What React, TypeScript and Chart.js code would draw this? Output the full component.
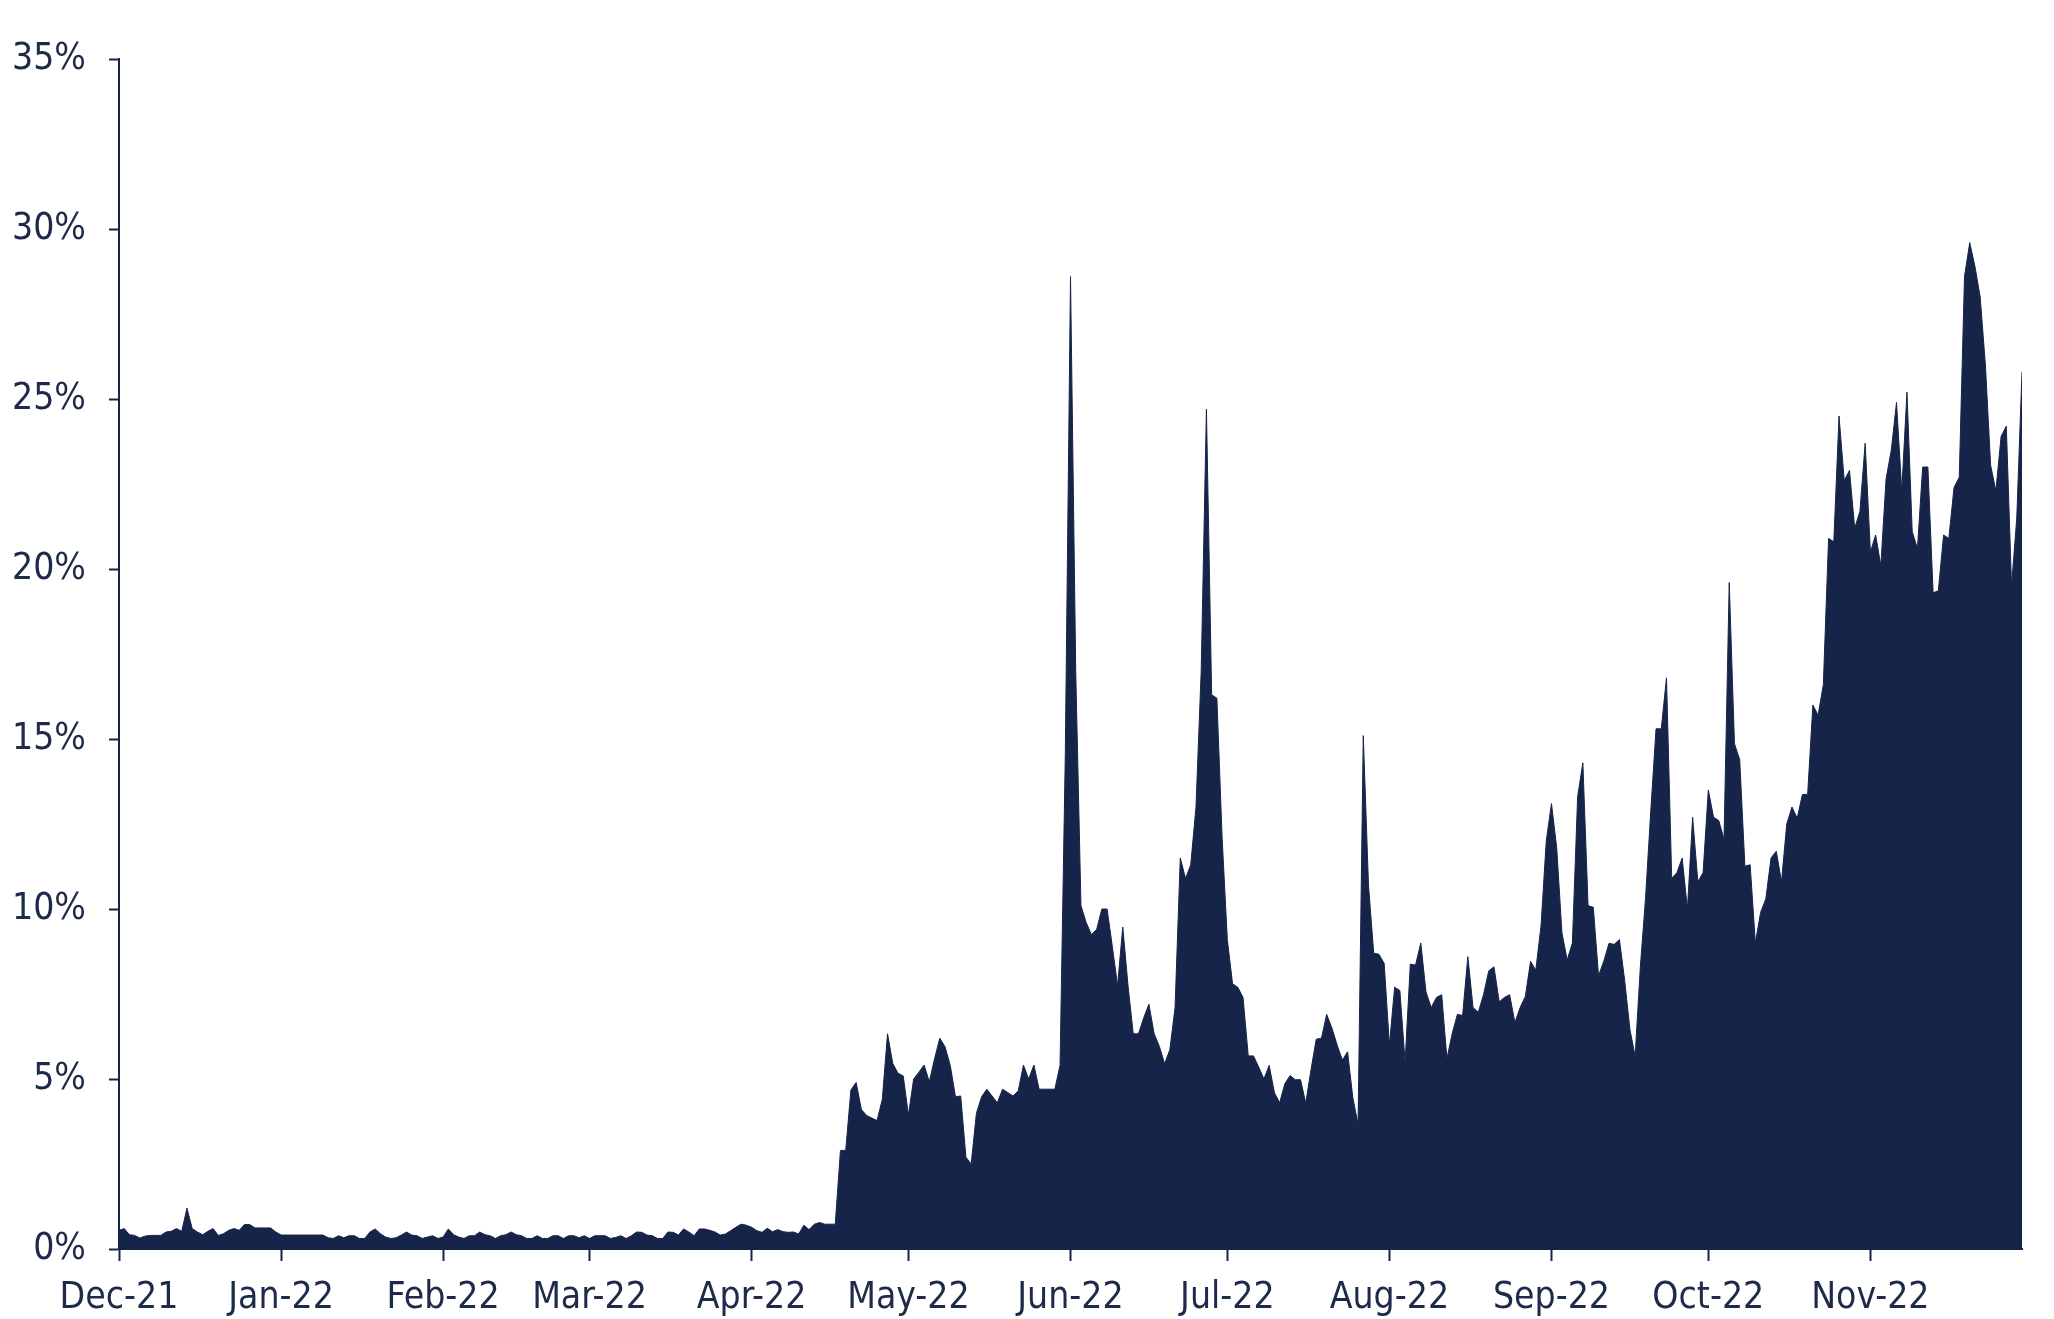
import React, { useEffect, useRef } from 'react';
import { Chart, registerables } from 'chart.js';

Chart.register(...registerables);

// Month tick labels (one tick at the first day of each month)
const monthLabels = ['Dec-21', 'Jan-22', 'Feb-22', 'Mar-22', 'Apr-22', 'May-22', 'Jun-22', 'Jul-22', 'Aug-22', 'Sep-22', 'Oct-22', 'Nov-22'];

// Daily values (%) by month
const dec21 = [0.55, 0.6, 0.42, 0.4, 0.32, 0.38, 0.4, 0.4, 0.4, 0.5, 0.52, 0.6, 0.52, 1.2, 0.6, 0.5, 0.42, 0.52, 0.6, 0.4, 0.45, 0.55, 0.6, 0.55, 0.72, 0.72, 0.62, 0.62, 0.62, 0.62, 0.5];
const jan22 = [0.41, 0.41, 0.41, 0.41, 0.41, 0.41, 0.41, 0.41, 0.41, 0.33, 0.31, 0.39, 0.33, 0.39, 0.39, 0.31, 0.31, 0.5, 0.59, 0.45, 0.35, 0.31, 0.33, 0.41, 0.5, 0.41, 0.39, 0.31, 0.35, 0.39, 0.31];
const feb22 = [0.35, 0.59, 0.42, 0.35, 0.31, 0.39, 0.39, 0.5, 0.42, 0.39, 0.31, 0.39, 0.42, 0.5, 0.42, 0.39, 0.31, 0.31, 0.39, 0.31, 0.31, 0.39, 0.39, 0.31, 0.39, 0.39, 0.33, 0.39];
const mar22 = [0.31, 0.39, 0.39, 0.39, 0.31, 0.34, 0.39, 0.31, 0.39, 0.5, 0.49, 0.41, 0.39, 0.31, 0.31, 0.5, 0.49, 0.41, 0.59, 0.5, 0.39, 0.59, 0.59, 0.55, 0.5, 0.41, 0.44, 0.54, 0.64, 0.73, 0.7];
const apr22 = [0.64, 0.54, 0.49, 0.61, 0.51, 0.57, 0.51, 0.49, 0.5, 0.44, 0.7, 0.57, 0.73, 0.78, 0.73, 0.73, 0.73, 2.9, 2.9, 4.68, 4.9, 4.1, 3.93, 3.85, 3.78, 4.4, 6.33, 5.46, 5.17, 5.09];
const may22 = [3.94, 5.0, 5.2, 5.41, 4.92, 5.6, 6.2, 5.95, 5.4, 4.48, 4.5, 2.7, 2.5, 3.99, 4.48, 4.7, 4.5, 4.3, 4.7, 4.6, 4.5, 4.65, 5.41, 5.0, 5.41, 4.7, 4.7, 4.7, 4.7, 5.4, 14.5];
const jun22 = [28.6, 17.0, 10.1, 9.6, 9.25, 9.4, 10.0, 10.0, 8.9, 7.75, 9.47, 7.75, 6.33, 6.33, 6.8, 7.2, 6.33, 5.96, 5.45, 5.86, 7.1, 11.5, 10.9, 11.3, 13.0, 17.0, 24.7, 16.3, 16.2, 12.1];
const jul22 = [9.1, 7.8, 7.7, 7.4, 5.68, 5.68, 5.35, 5.0, 5.4, 4.6, 4.3, 4.86, 5.1, 4.98, 4.98, 4.29, 5.27, 6.17, 6.2, 6.9, 6.5, 6.0, 5.56, 5.8, 4.45, 3.67, 15.1, 10.7, 8.7, 8.67, 8.4];
const aug22 = [6.0, 7.7, 7.6, 5.5, 8.38, 8.35, 9.0, 7.56, 7.1, 7.4, 7.48, 5.6, 6.33, 6.9, 6.87, 8.6, 7.1, 6.96, 7.48, 8.18, 8.3, 7.27, 7.4, 7.48, 6.66, 7.1, 7.43, 8.46, 8.2, 9.5, 12.0];
const sep22 = [13.1, 11.8, 9.3, 8.5, 9.0, 13.3, 14.3, 10.1, 10.05, 8.04, 8.46, 8.99, 8.96, 9.1, 7.9, 6.46, 5.67, 8.3, 10.34, 12.9, 15.3, 15.3, 16.8, 10.9, 11.07, 11.5, 10.0, 12.7, 10.8, 11.07];
const oct22 = [13.5, 12.7, 12.6, 12.05, 19.6, 14.86, 14.4, 11.26, 11.3, 9.0, 9.9, 10.3, 11.5, 11.7, 10.8, 12.5, 13.0, 12.67, 13.37, 13.37, 16.0, 15.7, 16.6, 20.9, 20.8, 24.5, 22.6, 22.9, 21.2, 21.7, 23.7];
const nov22 = [20.5, 21.0, 20.1, 22.65, 23.5, 24.9, 22.3, 25.2, 21.1, 20.6, 23.0, 23.0, 19.3, 19.36, 21.0, 20.9, 22.4, 22.7, 28.6, 29.6, 28.9, 28.0, 26.0, 23.05, 22.3, 23.9, 24.2, 19.5, 21.5, 25.8];

const monthlyValues = [dec21, jan22, feb22, mar22, apr22, may22, jun22, jul22, aug22, sep22, oct22, nov22];

// Y-axis tick values (%)
const yTicks = [0, 5, 10, 15, 20, 25, 30, 35];

const NAVY = '#16244a';
const TEXT = '#1e2a4a';
const FONT_FAMILY = '"Liberation Sans Narrow", "DejaVu Sans Condensed", "Liberation Sans", sans-serif';

export default function App() {
  const ref = useRef<HTMLCanvasElement>(null);

  useEffect(() => {
    if (!ref.current) return;
    const values = monthlyValues.flat();
    const monthStarts: number[] = [];
    let acc = 0;
    monthlyValues.forEach((m) => {
      monthStarts.push(acc);
      acc += m.length;
    });
    const points = values.map((v, i) => ({ x: i, y: v }));
    const font = { family: FONT_FAMILY, size: 37, weight: 'normal' as const };

    const chart = new Chart(ref.current, {
      type: 'line',
      data: {
        datasets: [
          {
            data: points,
            fill: 'origin',
            backgroundColor: NAVY,
            borderColor: NAVY,
            borderWidth: 1,
            pointRadius: 0,
            tension: 0,
          },
        ],
      },
      options: {
        animation: false,
        responsive: false,
        layout: { padding: { top: 59, right: 32, left: 0, bottom: 0 } },
        plugins: { legend: { display: false }, tooltip: { enabled: false } },
        scales: {
          x: {
            type: 'linear',
            min: 0,
            max: values.length - 1,
            afterBuildTicks: (s: any) => {
              s.ticks = monthStarts.map((v) => ({ value: v }));
            },
            afterFit: (s: any) => {
              s.height = 70;
            },
            ticks: {
              autoSkip: false,
              maxRotation: 0,
              minRotation: 0,
              padding: 15,
              color: TEXT,
              font,
              callback: (v: any) => {
                const idx = monthStarts.indexOf(Number(v));
                return idx >= 0 ? monthLabels[idx] : '';
              },
            },
            grid: { drawOnChartArea: false, drawTicks: true, tickLength: 12, tickColor: NAVY, tickWidth: 2 },
            border: { display: true, color: NAVY, width: 2 },
          },
          y: {
            min: 0,
            max: 35,
            afterBuildTicks: (s: any) => {
              s.ticks = yTicks.map((v) => ({ value: v }));
            },
            afterFit: (s: any) => {
              s.width = 119;
            },
            ticks: {
              padding: 23,
              color: TEXT,
              font,
              callback: (v: any) => `${v}%`,
            },
            grid: { drawOnChartArea: false, drawTicks: true, tickLength: 10, tickColor: NAVY, tickWidth: 2 },
            border: { display: true, color: NAVY, width: 2 },
          },
        },
      },
    });
    return () => chart.destroy();
  }, []);

  return (
    <canvas
      ref={ref}
      width={2054}
      height={1319}
      style={{ position: 'absolute', left: 0, top: 0, display: 'block', background: '#ffffff' }}
    />
  );
}
